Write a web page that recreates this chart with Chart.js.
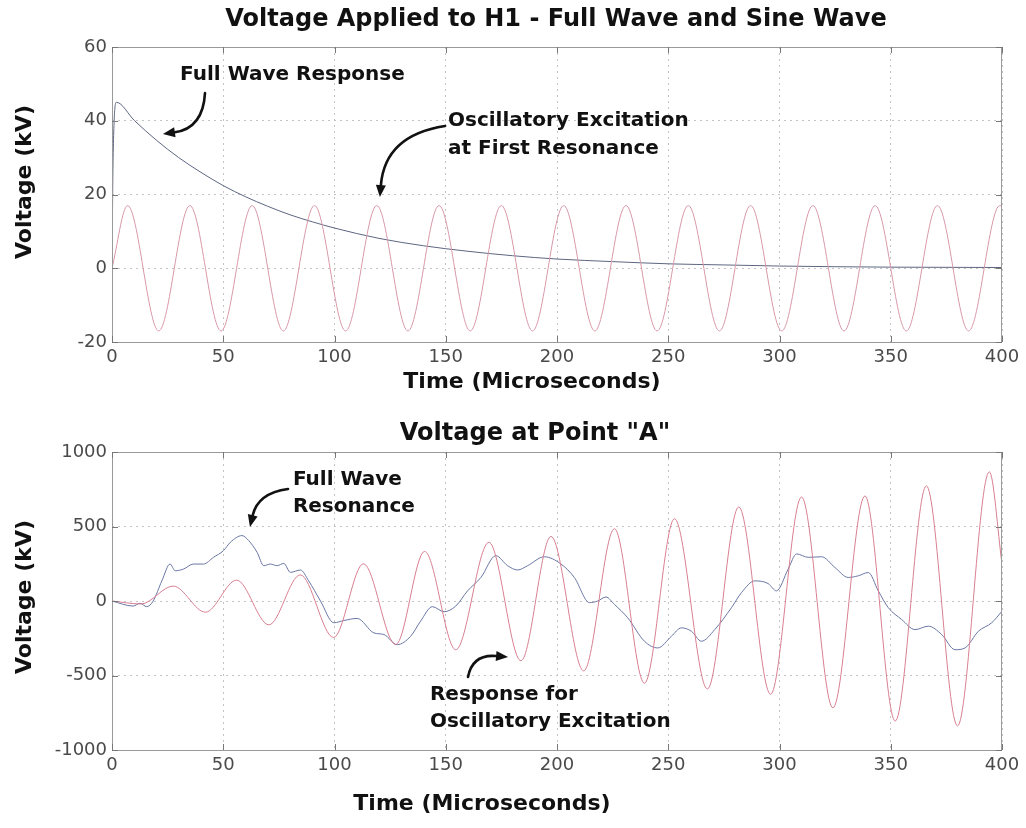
<!DOCTYPE html>
<html>
<head>
<meta charset="utf-8">
<script src="https://cdn.jsdelivr.net/npm/chart.js@4.4.0/dist/chart.umd.min.js"></script>
<style>
  html, body { margin: 0; padding: 0; background: #fff; }
  #wrap { position: relative; width: 1026px; height: 828px; }
  canvas { position: absolute; left: 0; }
</style>
</head>
<body>
<div id="wrap">
  <canvas id="topChart" width="1026" height="414" style="top:0"></canvas>
  <canvas id="bottomChart" width="1026" height="414" style="top:414px"></canvas>
</div>
<script>
// ---- top plot: voltage applied to H1 ----
const sineTime = [0, 7, 21, 35, 49, 63, 77, 91, 105, 119, 133, 147, 161, 175, 189, 203,
  217, 231, 245, 259, 273, 287, 301, 315, 329, 343, 357, 371, 385, 399, 400]
const sineKV = [0, 17, -17, 17, -17, 17, -17, 17, -17, 17, -17, 17, -17, 17, -17, 17,
  -17, 17, -17, 17, -17, 17, -17, 17, -17, 17, -17, 17, -17, 17, 16.9]

const fullTime = [0, 0.5, 2, 10, 20, 30, 40, 50, 60, 70, 80, 90, 100, 120, 140, 160,
  180, 200, 225, 250, 275, 300, 350, 400]
const fullKV = [0, 30, 45, 40.1, 34.7, 30.0, 26.0, 22.4, 19.4, 16.8, 14.5, 12.6, 10.9, 8.1, 6.1, 4.6,
  3.4, 2.5, 1.8, 1.2, 0.9, 0.6, 0.3, 0.2]

// ---- bottom plot: voltage at point "A" ----
const oscTime = [0, 13, 27.5, 42, 56, 70.5, 84.6, 99.6, 113, 127.5, 140.5, 154.5, 169.4, 183.8,
  197.3, 212, 225.8, 239.3, 252.8, 267.6, 281.7, 296, 309.9, 324, 338.4, 352, 366, 380, 394.3, 400]
const oscKV = [0, -20, 100, -75, 140, -160, 175, -245, 250, -293, 333, -327, 394, -401,
  433, -469, 485, -552, 552, -590, 631, -626, 698, -717, 705, -806, 773, -838, 867, 250]

const resTime = [0, 9.5, 12.6, 15.6, 18.5, 22.4, 26.1, 28.4, 32.1, 36.6, 41.1, 45.6, 50.1, 53.2,
  58.4, 61.4, 65.2, 68.2, 71.2, 74.2, 77.2, 80.2, 84.7, 88.4, 93.7, 99.7, 104.2, 110.2, 117.7,
  122.2, 128.2, 134.2, 138.7, 144, 149.2, 154.5, 159.8, 165.8, 172.5, 177.8, 182.3, 186.8, 194.3,
  201.8, 207.8, 214.6, 218.3, 222, 225.8, 231.8, 239.3, 245.3, 251.4, 255.9, 260.4, 264.9, 270.9,
  278.4, 282.9, 288.9, 294.9, 298.6, 303.9, 307.7, 312.9, 318.9, 324.9, 330.9, 335.4, 339.9,
  344.4, 348.9, 354.9, 360.9, 366.9, 372.9, 378.9, 383.4, 389.4, 395.4, 400]
const resKV = [0, -34, -15, -38, 0, 135, 248, 203, 214, 248, 248, 293, 338, 394,
  439, 406, 327, 237, 248, 237, 252, 192, 208, 135, 0, -146, -131, -117, -214,
  -225, -293, -237, -135, -38, -72, -34, 68, 158, 304, 237, 208, 237, 297,
  248, 158, -11, 0, 27, -23, -113, -270, -315, -237, -180, -203, -270, -192,
  -45, 56, 135, 117, 68, 214, 316, 293, 297, 225, 158, 169, 191,
  68, -45, -124, -192, -169, -225, -327, -315, -203, -146, -68]

const timeTicks = [0, 50, 100, 150, 200, 250, 300, 350, 400]

const FONT = "'DejaVu Sans', sans-serif"
Chart.defaults.font.family = FONT

const pts = (xs, ys) => xs.map((x, i) => ({ x, y: ys[i] }))

// box round the plot with inward ticks on all four sides
const framePlugin = {
  id: "frame",
  afterDatasetsDraw(chart) {
    const { ctx, chartArea: a, scales: { x, y } } = chart
    ctx.save()
    ctx.strokeStyle = "#9a9a9a"
    ctx.lineWidth = 1
    ctx.strokeRect(a.left + 0.5, a.top + 0.5, a.right - a.left - 1, a.bottom - a.top)
    ctx.strokeStyle = "#777"
    ctx.beginPath()
    x.ticks.forEach(t => {
      const px = Math.round(x.getPixelForValue(t.value)) + 0.5
      ctx.moveTo(px, a.bottom); ctx.lineTo(px, a.bottom - 6)
      ctx.moveTo(px, a.top); ctx.lineTo(px, a.top + 6)
    })
    y.ticks.forEach(t => {
      const py = Math.round(y.getPixelForValue(t.value)) + 0.5
      ctx.moveTo(a.left, py); ctx.lineTo(a.left + 6, py)
      ctx.moveTo(a.right, py); ctx.lineTo(a.right - 6, py)
    })
    ctx.stroke()
    ctx.restore()
  }
}

// titles, labels and the curved arrows
const textPlugin = {
  id: "texts",
  afterDraw(chart, args, opts) {
    const { ctx, scales: { x, y } } = chart
    ctx.save()
    ctx.textBaseline = "middle"
    ;(opts.items || []).forEach(it => {
      const px = it.px != null ? it.px : x.getPixelForValue(it.t)
      const py = it.py != null ? it.py : y.getPixelForValue(it.v)
      ctx.font = it.font
      ctx.fillStyle = "#111"
      ctx.textAlign = it.align || "left"
      if (it.rotate) {
        ctx.save()
        ctx.translate(px, py)
        ctx.rotate(-Math.PI / 2)
        ctx.fillText(it.text, 0, 0)
        ctx.restore()
      } else {
        ctx.fillText(it.text, px, py)
      }
    })
    ;(opts.arrows || []).forEach(a => {
      const x0 = x.getPixelForValue(a[0]), y0 = y.getPixelForValue(a[1])
      const xc = x.getPixelForValue(a[2]), yc = y.getPixelForValue(a[3])
      const x1 = x.getPixelForValue(a[4]), y1 = y.getPixelForValue(a[5])
      const ang = Math.atan2(y1 - yc, x1 - xc)
      const len = 12, half = 5
      const bx = x1 - len * Math.cos(ang), by = y1 - len * Math.sin(ang)
      ctx.strokeStyle = "#111"
      ctx.fillStyle = "#111"
      ctx.lineWidth = 2.6
      ctx.lineCap = "round"
      ctx.beginPath()
      ctx.moveTo(x0, y0)
      ctx.quadraticCurveTo(xc, yc, bx, by)
      ctx.stroke()
      ctx.beginPath()
      ctx.moveTo(x1, y1)
      ctx.lineTo(bx + half * Math.sin(ang), by - half * Math.cos(ang))
      ctx.lineTo(bx - half * Math.sin(ang), by + half * Math.cos(ang))
      ctx.closePath()
      ctx.fill()
    })
    ctx.restore()
  }
}

function scales(yMin, yMax, yStep, xHeight) {
  const tickFont = { family: FONT, size: 18 }
  return {
    x: {
      type: "linear", min: 0, max: 400,
      afterBuildTicks: s => { s.ticks = timeTicks.map(v => ({ value: v })) },
      ticks: { color: "#4a4a4a", font: tickFont, padding: 5, maxRotation: 0, autoSkip: false,
        callback: v => String(v) },
      grid: { color: "#c4c4c4", drawTicks: false },
      border: { display: false, dash: [2, 4] },
      afterFit: s => { s.height = xHeight }
    },
    y: {
      min: yMin, max: yMax,
      ticks: { stepSize: yStep, color: "#4a4a4a", font: tickFont, padding: 5,
        callback: v => String(v) },
      grid: { color: "#c4c4c4", drawTicks: false },
      border: { display: false, dash: [2, 4] },
      afterFit: s => { s.width = 112 }
    }
  }
}

const lineStyle = color => ({
  borderColor: color, borderWidth: 1, pointRadius: 0, fill: false,
  cubicInterpolationMode: "monotone"
})

new Chart(document.getElementById("topChart"), {
  type: "line",
  data: {
    datasets: [
      { label: "Oscillatory Excitation", data: pts(sineTime, sineKV), ...lineStyle("#d898a8") },
      { label: "Full Wave Response", data: pts(fullTime, fullKV), ...lineStyle("#5c6680") }
    ]
  },
  options: {
    responsive: false, animation: false,
    layout: { padding: { top: 47, right: 24, left: 0, bottom: 0 } },
    scales: scales(-20, 60, 20, 72),
    plugins: {
      legend: { display: false }, tooltip: { enabled: false },
      texts: {
        items: [
          { text: "Voltage Applied to H1 - Full Wave and Sine Wave", px: 556, py: 20, align: "center", font: "bold 24px " + FONT },
          { text: "Voltage (kV)", px: 25, py: 182, align: "center", rotate: true, font: "bold 22px " + FONT },
          { text: "Time (Microseconds)", px: 532, py: 382, align: "center", font: "bold 22px " + FONT },
          { text: "Full Wave Response", t: 30.6, v: 52.4, font: "bold 20px " + FONT },
          { text: "Oscillatory Excitation", t: 151, v: 39.9, font: "bold 20px " + FONT },
          { text: "at First Resonance", t: 151, v: 32.3, font: "bold 20px " + FONT }
        ],
        arrows: [
          [41.8, 47.5, 40.9, 38.0, 22.9, 36.4],
          [149.7, 38.6, 122.7, 36.1, 120.4, 19.3]
        ]
      }
    }
  },
  plugins: [framePlugin, textPlugin]
})

new Chart(document.getElementById("bottomChart"), {
  type: "line",
  data: {
    datasets: [
      { label: "Response for Oscillatory Excitation", data: pts(oscTime, oscKV), ...lineStyle("#d87f90") },
      { label: "Full Wave Resonance", data: pts(resTime, resKV), ...lineStyle("#6a76a4") }
    ]
  },
  options: {
    responsive: false, animation: false,
    layout: { padding: { top: 38, right: 24, left: 0, bottom: 0 } },
    scales: scales(-1000, 1000, 500, 78),
    plugins: {
      legend: { display: false }, tooltip: { enabled: false },
      texts: {
        items: [
          { text: "Voltage at Point \"A\"", px: 535, py: 20, align: "center", font: "bold 24px " + FONT },
          { text: "Voltage (kV)", px: 25, py: 183, align: "center", rotate: true, font: "bold 22px " + FONT },
          { text: "Time (Microseconds)", px: 482, py: 390, align: "center", font: "bold 22px " + FONT },
          { text: "Full Wave", t: 81.3, v: 812, font: "bold 20px " + FONT },
          { text: "Resonance", t: 81.3, v: 631, font: "bold 20px " + FONT },
          { text: "Response for", t: 142.9, v: -631, font: "bold 20px " + FONT },
          { text: "Oscillatory Excitation", t: 142.9, v: -812, font: "bold 20px " + FONT }
        ],
        arrows: [
          [79.1, 752, 65.6, 725, 62.0, 497],
          [160, -510, 162, -356, 178, -376]
        ]
      }
    }
  },
  plugins: [framePlugin, textPlugin]
})
</script>
</body>
</html>
